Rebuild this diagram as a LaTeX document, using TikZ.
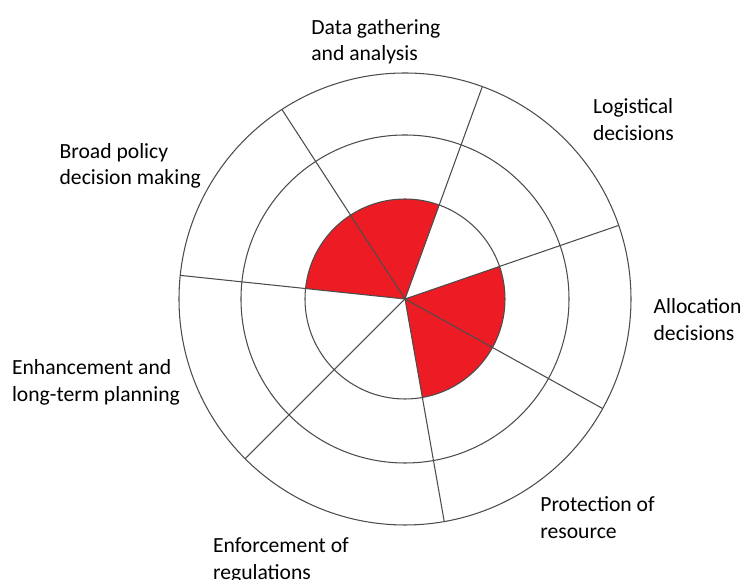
\documentclass[tikz,border=0pt]{standalone}
\usepackage{fontspec}
\setmainfont{Carlito}
\definecolor{sectorred}{HTML}{ED1C24}

\begin{document}
\begin{tikzpicture}[x=0.02cm,y=0.02cm,
		ring/.style={draw=black!70,line width=0.6pt},
		lbl/.style={anchor=base west,align=left,inner sep=0pt,
			font=\fontsize{12.3}{15.2}\selectfont}]
		\useasboundingbox (-405,-281) rectangle (339,299);
		\coordinate (c) at (0,0);
		% filled sectors
		\foreach \a/\b in {70/123,123/174,-29/19,-80/-29}
			\fill[sectorred] (c) -- (\a:100) arc[start angle=\a,end angle=\b,radius=100] -- cycle;
		% rings and spokes
		\foreach \r in {100,164,226}
			\draw[ring] (c) circle[radius=\r];
		\foreach \a in {19,70,123,174,225,280,331}
			\draw[ring] (c) -- (\a:226);
		% labels (anchored at the baseline of the last line)
		\node[lbl] (data) at (-94,238) {Data gathering\\and analysis};
		\node[lbl] (logist) at (187.7,158.3) {Logistical\\decisions};
		\node[lbl] (policy) at (-345.7,114) {Broad policy\\decision making};
		\node[lbl] (alloc) at (248.3,-41.7) {Allocation\\decisions};
		\node[lbl] (enhance) at (-393.3,-102.7) {Enhancement and\\long-term planning};
		\node[lbl] (protect) at (135,-239.4) {Protection of\\resource};
		\node[lbl] (enforce) at (-192.3,-280.4) {Enforcement of\\regulations};
	\end{tikzpicture}
\end{document}
